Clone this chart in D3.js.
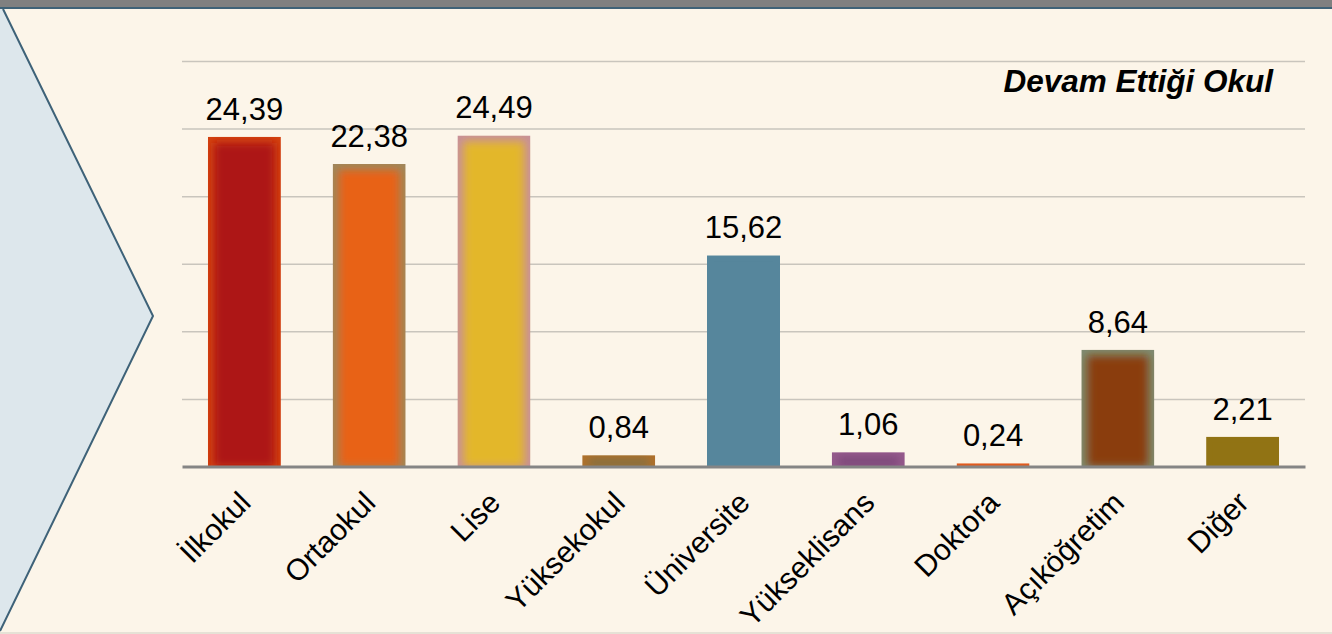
<!DOCTYPE html>
<html>
<head>
<meta charset="utf-8">
<script src="https://cdn.jsdelivr.net/npm/d3@7"></script>
<style>
  html, body { margin: 0; padding: 0; background: #fcf5e9; }
  #chart { width: 1332px; height: 634px; }
  text { font-family: "Liberation Sans", Arial, sans-serif; }
</style>
</head>
<body>
<div id="chart"></div>
<script>
const categories = ["İlkokul", "Ortaokul", "Lise", "Yüksekokul", "Üniversite", "Yükseklisans", "Doktora", "Açıköğretim", "Diğer"];
const values = [24.39, 22.38, 24.49, 0.84, 15.62, 1.06, 0.24, 8.64, 2.21];
const barColors = ["#ad1414", "#e86214", "#e3b72c", "#7d7045", "#56869c", "#7c4679", "#e05a1e", "#8a3c10", "#917314"];
const edgeColors = ["#d3420f", "#a0875c", "#c8909a", "#b0702a", "#56869c", "#955a8c", "#e05a1e", "#7f8c72", "#917314"];
const yTicks = [0, 5, 10, 15, 20, 25, 30];
const title = "Devam Ettiği Okul";

const width = 1332, height = 634;
const margin = { left: 182, right: 27, top: 61, bottom: 168 };

const svg = d3.select("#chart").append("svg")
  .attr("width", width)
  .attr("height", height);

const defs = svg.append("defs");
defs.append("filter").attr("id", "glow")
  .attr("x", "-50%").attr("y", "-50%").attr("width", "200%").attr("height", "200%")
  .append("feGaussianBlur").attr("stdDeviation", 4);

// background
svg.append("rect").attr("width", width).attr("height", height).attr("fill", "#fcf5e9");
svg.append("rect").attr("x", 0).attr("y", 0).attr("width", width).attr("height", 8).attr("fill", "#808080");
svg.append("line").attr("x1", 0).attr("x2", width).attr("y1", 8).attr("y2", 8)
  .attr("stroke", "#3f6277").attr("stroke-width", 2);
svg.append("line").attr("x1", 0).attr("x2", width).attr("y1", 633).attr("y2", 633)
  .attr("stroke", "#e6e2d6").attr("stroke-width", 2);

// left chevron panel
svg.append("path")
  .attr("d", "M0,9 L3,9 L153,316 L0,631 Z")
  .attr("fill", "#dde7ec");
svg.append("path")
  .attr("d", "M3,9 L153,316 L0,631")
  .attr("fill", "none")
  .attr("stroke", "#3e6278")
  .attr("stroke-width", 2);

const x = d3.scaleBand()
  .domain(categories)
  .range([margin.left, width - margin.right])
  .paddingInner(0.415)
  .paddingOuter(0.2075);

const y = d3.scaleLinear()
  .domain([0, 30])
  .range([height - margin.bottom + 0.5, margin.top]);

// gridlines
svg.append("g")
  .attr("transform", `translate(${margin.left},0)`)
  .call(d3.axisLeft(y).tickValues(yTicks.slice(1)).tickSize(-(width - margin.left - margin.right)).tickFormat(""))
  .call(g => g.select(".domain").remove())
  .call(g => g.selectAll(".tick line").attr("stroke", "#c9c5bd").attr("stroke-width", 1.5));

// bars
const bars = svg.selectAll(".bar")
  .data(categories.map((c, i) => ({ c, v: values[i], fill: barColors[i], edge: edgeColors[i], i })))
  .enter().append("g").attr("class", "bar");

bars.each(function (d) {
  const g = d3.select(this);
  const bx = x(d.c), bw = x.bandwidth(), by = y(d.v), bh = y(0) - y(d.v);
  const inset = Math.min(6, bh / 3);
  defs.append("clipPath").attr("id", "clip" + d.i)
    .append("rect").attr("x", bx).attr("y", by).attr("width", bw).attr("height", bh);
  const inner = g.append("g").attr("clip-path", `url(#clip${d.i})`);
  inner.append("rect").attr("x", bx).attr("y", by).attr("width", bw).attr("height", bh).attr("fill", d.edge);
  inner.append("rect")
    .attr("x", bx + 6).attr("y", by + inset)
    .attr("width", Math.max(0, bw - 12)).attr("height", Math.max(0, bh - inset))
    .attr("fill", d.fill)
    .attr("filter", d.edge !== d.fill ? "url(#glow)" : null);
});

// value labels
svg.selectAll(".val")
  .data(values)
  .enter().append("text")
  .attr("x", (d, i) => x(categories[i]) + x.bandwidth() / 2)
  .attr("y", d => y(d) - 17)
  .attr("text-anchor", "middle")
  .attr("font-size", 31)
  .attr("fill", "#000")
  .text(d => d.toFixed(2).replace(".", ","));

// baseline axis
svg.append("g")
  .attr("transform", `translate(0,${y(0)})`)
  .call(d3.axisBottom(x).tickSize(0).tickFormat(""))
  .call(g => g.select(".domain").attr("stroke", "#858585").attr("stroke-width", 3));

// category labels
svg.selectAll(".cat")
  .data(categories)
  .enter().append("text")
  .attr("transform", d => `translate(${x(d) + x.bandwidth() / 2 + 8},${y(0) + 38}) rotate(-45)`)
  .attr("text-anchor", "end")
  .attr("font-size", 30)
  .attr("fill", "#000")
  .text(d => d);

// title
svg.append("text")
  .attr("x", 1273)
  .attr("y", 92)
  .attr("text-anchor", "end")
  .attr("font-size", 31.5)
  .attr("font-weight", "bold")
  .attr("font-style", "italic")
  .attr("fill", "#000")
  .text(title);
</script>
</body>
</html>
